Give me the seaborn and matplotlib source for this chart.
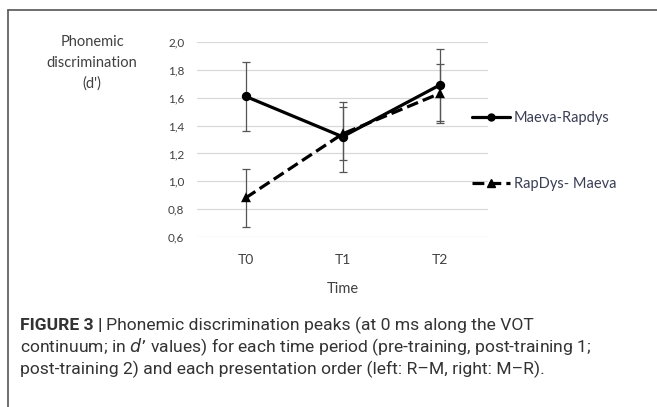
import numpy as np
import pandas as pd
import seaborn as sns
import matplotlib
matplotlib.use("Agg")
from matplotlib import pyplot as plt
from matplotlib.lines import Line2D

# values
times = ["T0", "T1", "T2"]
orders = ["Maeva-Rapdys", "RapDys- Maeva"]
maeva_rapdys = [1.61, 1.32, 1.69]
maeva_rapdys_err = [0.25, 0.25, 0.26]
rapdys_maeva = [0.88, 1.34, 1.63]
rapdys_maeva_err = [0.21, 0.19, 0.21]
yticks = [0.6, 0.8, 1.0, 1.2, 1.4, 1.6, 1.8, 2.0]

df = pd.DataFrame({
    "time": times * 2,
    "order": [orders[0]] * 3 + [orders[1]] * 3,
    "d": maeva_rapdys + rapdys_maeva,
    "err": maeva_rapdys_err + rapdys_maeva_err,
})

sns.set_style("white")
plt.rcParams["font.family"] = ["Lato", "DejaVu Sans"]

fig = plt.figure(figsize=(6.57, 4.07), dpi=100)
ax = fig.add_axes([197 / 657, 1 - 237 / 407, 291 / 657, 195 / 407])

# error bars first so the lines sit on top
for i, o in enumerate(orders):
    sub = df[df["order"] == o]
    ax.errorbar(np.arange(len(times)), sub["d"], yerr=sub["err"], fmt="none",
                ecolor="#555555", elinewidth=0.9, capsize=3, capthick=0.9, zorder=2)

sns.pointplot(data=df, x="time", y="d", hue="order", order=times, hue_order=orders,
              palette=["black", "black"], markers=["o", "^"], linestyles=["-", "--"],
              errorbar=None, markersize=5, linewidth=2.3, ax=ax, legend=False, zorder=3)

ax.set_xlim(-0.5, 2.5)
ax.set_ylim(0.6, 2.0)
ax.set_yticks(yticks)
ax.set_yticklabels([f"{v:.1f}".replace(".", ",") for v in yticks], fontsize=8.5, color="#404040")
ax.tick_params(axis="x", labelsize=10, colors="#404040", pad=12, length=0)
ax.tick_params(axis="y", pad=9, length=0)
ax.grid(axis="y", color="#d9d9d9", linewidth=0.9)
ax.set_axisbelow(True)
sns.despine(ax=ax, left=True, bottom=True)
ax.set_xlabel("Time", fontsize=10.5, color="#404040", labelpad=12)
ax.set_ylabel("")

fig.text(92 / 657, 1 - 63 / 407, "Phonemic\ndiscrimination\n(d')", ha="center", va="center",
         fontsize=10.5, color="#404040", linespacing=1.6)

handles = [
    Line2D([], [], color="black", lw=2.3, ls="-", marker="o", markersize=5),
    Line2D([], [], color="black", lw=2.3, ls="--", marker="^", markersize=6),
]
ax.legend(handles, orders, loc="center left", bbox_to_anchor=(0.9, 0.44), frameon=False,
          fontsize=10.5, labelcolor="#3a3f55", handlelength=2.6, handletextpad=0.25,
          labelspacing=3.6)

# outer frame of the figure panel
fig.add_artist(Line2D([7.5 / 657, 7.5 / 657], [0, 1 - 9.5 / 407], color="#555555", lw=1.2))
fig.add_artist(Line2D([7.5 / 657, 1], [1 - 9.5 / 407, 1 - 9.5 / 407], color="#555555", lw=1.2))

# caption
cap_kw = dict(fontsize=12.6, color="#333333", family=["Roboto", "DejaVu Sans"], va="center")
bold = fig.text(20 / 657, 1 - 325 / 407, "FIGURE 3 |", fontweight="bold", **cap_kw)
r = fig.canvas.get_renderer()
bb = bold.get_window_extent(renderer=r)
fig.text(bb.x1 / fig.bbox.width + 4 / 657, 1 - 325 / 407,
         "Phonemic discrimination peaks (at 0 ms along the VOT", **cap_kw)
fig.text(20 / 657, 1 - 347 / 407,
         "continuum; in $\\it{d}$’ values) for each time period (pre-training, post-training 1;", **cap_kw)
fig.text(20 / 657, 1 - 369 / 407,
         "post-training 2) and each presentation order (left: R–M, right: M–R).", **cap_kw)

fig.savefig("out.png", dpi=100)
